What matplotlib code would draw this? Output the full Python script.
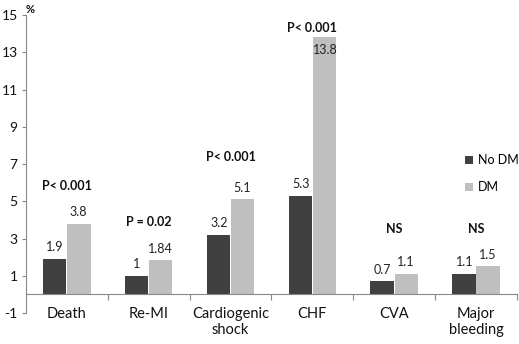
import matplotlib.pyplot as plt
import numpy as np

plt.rcParams['font.family'] = ['Lato', 'DejaVu Sans']

# outcome rates (%) by diabetes status
categories = ["Death", "Re-MI", "Cardiogenic\nshock", "CHF", "CVA", "Major\nbleeding"]
no_dm = [1.9, 1.0, 3.2, 5.3, 0.7, 1.1]
dm = [3.8, 1.84, 5.1, 13.8, 1.1, 1.5]
no_dm_labels = ["1.9", "1", "3.2", "5.3", "0.7", "1.1"]
dm_labels = ["3.8", "1.84", "5.1", "13.8", "1.1", "1.5"]
p_values = ["P< 0.001", "P = 0.02", "P< 0.001", "P< 0.001", "NS", "NS"]
p_heights = [5.8, 3.9, 7.4, 14.3, 3.5, 3.5]
y_ticks = [-1, 1, 3, 5, 7, 9, 11, 13, 15]

dark = "#404040"
light = "#bfbfbf"

fig = plt.figure(figsize=(5.19, 3.44), dpi=100)
ax = fig.add_axes([0.050, 0.090, 0.946, 0.866])

x = np.arange(len(categories))
w = 0.285
ax.bar(x - w / 2 - 0.005, no_dm, w, color=dark, label="No DM")
ax.bar(x + w / 2 + 0.005, dm, w, color=light, label="DM")

for i in range(len(categories)):
    ax.text(x[i] - w / 2, no_dm[i] + 0.3, no_dm_labels[i], ha="center", va="bottom",
            fontsize=9, color="#222222")
    if dm[i] > 10:
        # tall bar: value sits inside the top of the bar
        ax.text(x[i] + w / 2 + 0.02, dm[i] - 0.35, dm_labels[i], ha="center", va="top",
                fontsize=9, color="#222222")
    else:
        ax.text(x[i] + w / 2, dm[i] + 0.3, dm_labels[i], ha="center", va="bottom",
                fontsize=9, color="#222222")
    ax.text(x[i], p_heights[i], p_values[i], ha="center", va="center",
            fontsize=9, fontweight="bold", color="#111111")
    ax.text(x[i], -0.7, categories[i], ha="center", va="top", fontsize=10.5,
            color="#111111", linespacing=1.1, clip_on=False)

ax.set_xlim(-0.5, len(categories) - 0.5)
ax.set_ylim(-1, 15)
ax.set_yticks(y_ticks)
ax.set_yticklabels([str(t) for t in y_ticks], fontsize=10, color="#111111")
ax.set_xticks(np.arange(len(categories)) + 0.5)
ax.set_xticklabels([])

ax.spines["top"].set_visible(False)
ax.spines["right"].set_visible(False)
ax.spines["bottom"].set_position(("data", 0))
ax.spines["bottom"].set_color("#888888")
ax.spines["left"].set_color("#888888")
ax.tick_params(axis="x", direction="out", length=4, color="#888888")
ax.tick_params(axis="y", direction="out", length=3, color="#888888", pad=3)

ax.text(0.0, 1.0, "%", transform=ax.transAxes, ha="left", va="bottom",
        fontsize=8, fontweight="bold", color="#111111")

ax.legend(loc="upper left", bbox_to_anchor=(0.885, 0.55), frameon=False,
          fontsize=9, handlelength=0.6, handleheight=0.6, handletextpad=0.4,
          labelspacing=1.2, borderaxespad=0)

fig.savefig("out.png", dpi=100)
